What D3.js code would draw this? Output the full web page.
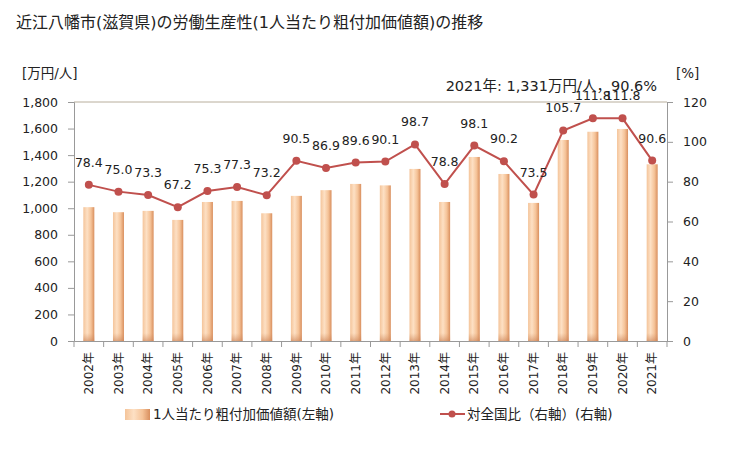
<!DOCTYPE html>
<html><head><meta charset="utf-8">
<script src="https://cdn.jsdelivr.net/npm/d3@7"></script>
<style>body{margin:0;background:#fff}svg{display:block}text{font-family:"DejaVu Sans","Noto Sans CJK JP",sans-serif;fill:#222}</style>
</head><body><svg id="c" width="729" height="450"></svg>
<script>
const years = ["2002年","2003年","2004年","2005年","2006年","2007年","2008年","2009年","2010年","2011年","2012年","2013年","2014年","2015年","2016年","2017年","2018年","2019年","2020年","2021年"];
const productivity = [1008,970,980,912,1047,1055,962,1093,1136,1183,1172,1296,1047,1386,1258,1040,1514,1576,1597,1331];
const ratio = [78.4,75.0,73.3,67.2,75.3,77.3,73.2,90.5,86.9,89.6,90.1,98.7,78.8,98.1,90.2,73.5,105.7,111.8,111.8,90.6];
const leftTicks = [0,200,400,600,800,1000,1200,1400,1600,1800];
const rightTicks = [0,20,40,60,80,100,120];

const svg = d3.select("#c");
const L = 74, R = 667, T = 102, B = 341;
const x = d3.scaleBand().domain(years).range([L, R]);
const yL = d3.scaleLinear().domain([0,1800]).range([B, T]);
const yR = d3.scaleLinear().domain([0,120]).range([B, T]);

const defs = svg.append("defs");
const g = defs.append("linearGradient").attr("id","bg").attr("x1","0").attr("x2","1").attr("y1","0").attr("y2","0");
[[0,"#f4c49a"],[0.35,"#fde0c4"],[0.7,"#f5c398"],[1,"#d98f5e"]].forEach(s=>g.append("stop").attr("offset",s[0]).attr("stop-color",s[1]));
const g2 = defs.append("linearGradient").attr("id","bgb").attr("x1","0").attr("x2","0").attr("y1","0").attr("y2","1");
g2.append("stop").attr("offset",0).attr("stop-color","#d4946a").attr("stop-opacity",0);
g2.append("stop").attr("offset",1).attr("stop-color","#c98055").attr("stop-opacity",0.6);

svg.append("text").attr("x",16).attr("y",28).attr("font-size",16).text("近江八幡市(滋賀県)の労働生産性(1人当たり粗付加価値額)の推移");

// top line
svg.append("line").attr("x1",L).attr("x2",R).attr("y1",T).attr("y2",T).attr("stroke","#b8ae9c");

// bars
const bw = 11;
svg.append("g").selectAll("rect").data(productivity).join("rect")
  .attr("x",(d,i)=>x(years[i])+x.bandwidth()/2-bw/2).attr("width",bw)
  .attr("y",d=>yL(d)).attr("height",d=>B-yL(d)).attr("fill","url(#bg)");
svg.append("g").selectAll("rect").data(productivity).join("rect")
  .attr("x",(d,i)=>x(years[i])+x.bandwidth()/2-bw/2).attr("width",bw)
  .attr("y",B-8).attr("height",8).attr("fill","url(#bgb)");

// axes
const ax = svg.append("g").attr("transform",`translate(${L},0)`).call(d3.axisLeft(yL).tickValues(leftTicks).tickSize(6).tickFormat(d3.format(",")));
const ar = svg.append("g").attr("transform",`translate(${R},0)`).call(d3.axisRight(yR).tickValues(rightTicks).tickSize(6));
const xa = svg.append("g").attr("transform",`translate(0,${B})`).call(d3.axisBottom(x).tickSize(0));
[ax,ar,xa].forEach(a=>{a.selectAll("path,line").attr("stroke","#999");a.selectAll("text").attr("font-size",12.5).attr("fill","#222").style("font-family",'"DejaVu Sans","Noto Sans CJK JP",sans-serif');});
ax.selectAll("text").attr("x",-16);
ar.selectAll("text").attr("x",16);
xa.selectAll("text").attr("transform","rotate(-90)").attr("text-anchor","end").attr("x",-11).attr("y",0).attr("dy","0.35em").attr("font-size",12);
// x ticks at band boundaries
svg.append("g").selectAll("line").data(years.concat(["end"])).join("line")
  .attr("x1",(d,i)=>L+i*x.step()).attr("x2",(d,i)=>L+i*x.step()).attr("y1",B).attr("y2",B+6).attr("stroke","#999");

svg.append("text").attr("x",22).attr("y",78).attr("font-size",13.5).text("[万円/人]");
svg.append("text").attr("x",676).attr("y",78).attr("font-size",13.5).text("[%]");

// line
const cx = (i)=>x(years[i])+x.bandwidth()/2;
svg.append("path").datum(ratio).attr("fill","none").attr("stroke","#c0504d").attr("stroke-width",2)
  .attr("d",d3.line().x((d,i)=>cx(i)).y(d=>yR(d)));
svg.append("g").selectAll("circle").data(ratio).join("circle").attr("cx",(d,i)=>cx(i)).attr("cy",d=>yR(d)).attr("r",4).attr("fill","#c0504d");
svg.append("g").selectAll("text").data(ratio).join("text").attr("x",(d,i)=>cx(i)).attr("y",d=>yR(d)-18)
  .attr("text-anchor","middle").attr("font-size",12.5).text(d=>d.toFixed(1));

svg.append("text").attr("x",657).attr("y",91).attr("text-anchor","end").attr("font-size",14.5).text("2021年: 1,331万円/人，90.6%");

// legend
svg.append("rect").attr("x",125).attr("y",409).attr("width",25).attr("height",11).attr("fill","url(#bg)");
svg.append("text").attr("x",153).attr("y",419).attr("font-size",13.5).text("1人当たり粗付加価値額(左軸)");
svg.append("line").attr("x1",440).attr("x2",465).attr("y1",414).attr("y2",414).attr("stroke","#c0504d").attr("stroke-width",2);
svg.append("circle").attr("cx",452).attr("cy",414).attr("r",3.5).attr("fill","#c0504d");
svg.append("text").attr("x",467).attr("y",419).attr("font-size",13.5).text("対全国比（右軸）(右軸)");
</script></body></html>
